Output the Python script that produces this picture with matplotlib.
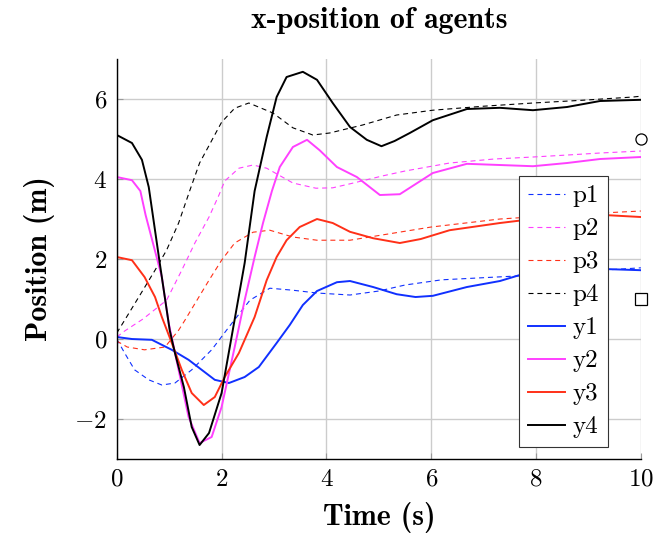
import numpy as np
import matplotlib
matplotlib.use('Agg')
from matplotlib import pyplot as plt

plt.rcParams['font.family'] = 'cmr10'
plt.rcParams['mathtext.fontset'] = 'cm'
plt.rcParams['axes.formatter.use_mathtext'] = True
plt.rcParams['axes.unicode_minus'] = True

# reference trajectories (dashed)
t_p1 = [0, 0.15, 0.34, 0.61, 0.86, 1.11, 1.43, 1.81, 2.14, 2.54, 2.92, 3.36, 3.82, 4.45, 5.0, 5.5, 6.2, 6.8, 8.0, 9.0, 10]
p1 = [0.0, -0.35, -0.77, -1.02, -1.15, -1.1, -0.77, -0.27, 0.3, 0.97, 1.27, 1.22, 1.15, 1.1, 1.2, 1.35, 1.48, 1.52, 1.6, 1.7, 1.78]

t_p2 = [0, 0.15, 0.5, 0.95, 1.24, 1.49, 1.76, 1.95, 2.06, 2.33, 2.6, 2.86, 3.36, 3.8, 4.12, 4.45, 5.08, 5.5, 6.35, 7.2, 7.94, 8.6, 9.22, 10]
p2 = [0.05, 0.2, 0.5, 0.97, 1.72, 2.4, 3.05, 3.6, 3.95, 4.27, 4.35, 4.27, 3.9, 3.77, 3.78, 3.88, 4.08, 4.2, 4.4, 4.5, 4.55, 4.6, 4.65, 4.7]

t_p3 = [0, 0.2, 0.53, 0.92, 1.18, 1.3, 1.76, 2.0, 2.25, 2.6, 2.92, 3.36, 3.82, 4.45, 5.34, 6.0, 7.31, 8.5, 10]
p3 = [-0.05, -0.2, -0.27, -0.2, 0.22, 0.47, 1.47, 1.97, 2.4, 2.67, 2.72, 2.55, 2.47, 2.47, 2.66, 2.8, 3.0, 3.1, 3.2]

t_p4 = [0, 0.15, 0.42, 0.73, 0.95, 1.18, 1.39, 1.58, 2.0, 2.25, 2.52, 2.98, 3.36, 3.74, 4.06, 4.69, 5.34, 6.03, 7.0, 7.94, 8.9, 9.85, 10]
p4 = [0.15, 0.47, 1.05, 1.72, 2.22, 2.9, 3.7, 4.4, 5.42, 5.77, 5.9, 5.65, 5.28, 5.1, 5.15, 5.35, 5.6, 5.72, 5.82, 5.9, 5.97, 6.05, 6.07]

# measured positions (solid)
t_y1 = [0, 0.29, 0.67, 1.05, 1.37, 1.62, 1.87, 2.14, 2.44, 2.71, 3.05, 3.3, 3.55, 3.82, 4.2, 4.45, 4.89, 5.34, 5.7, 6.03, 6.68, 7.31, 7.69, 8.5, 9.3, 10]
y1 = [0.05, 0.0, -0.02, -0.27, -0.52, -0.77, -1.02, -1.1, -0.95, -0.7, -0.1, 0.35, 0.85, 1.2, 1.42, 1.45, 1.3, 1.12, 1.05, 1.08, 1.3, 1.45, 1.6, 1.7, 1.75, 1.72]

t_y2 = [0, 0.29, 0.45, 0.55, 0.67, 0.86, 0.99, 1.2, 1.37, 1.58, 1.81, 2.0, 2.25, 2.44, 2.63, 2.79, 2.96, 3.11, 3.36, 3.63, 3.87, 4.2, 4.58, 5.02, 5.4, 6.03, 6.68, 7.31, 7.94, 8.59, 9.22, 10]
y2 = [4.05, 3.97, 3.7, 3.1, 2.5, 1.55, 0.4, -0.9, -1.95, -2.6, -2.45, -1.7, -0.2, 0.97, 2.05, 2.9, 3.7, 4.3, 4.8, 4.98, 4.72, 4.3, 4.05, 3.6, 3.62, 4.15, 4.38, 4.35, 4.32, 4.4, 4.5, 4.55]

t_y3 = [0, 0.29, 0.53, 0.73, 0.86, 1.05, 1.24, 1.43, 1.66, 1.87, 2.06, 2.33, 2.63, 2.86, 3.05, 3.24, 3.49, 3.82, 4.12, 4.45, 4.89, 5.4, 5.8, 6.35, 7.31, 7.94, 8.6, 9.3, 10]
y3 = [2.05, 1.97, 1.55, 1.05, 0.55, -0.1, -0.77, -1.35, -1.65, -1.45, -0.95, -0.35, 0.55, 1.47, 2.05, 2.47, 2.8, 3.0, 2.9, 2.68, 2.52, 2.4, 2.5, 2.72, 2.9, 3.0, 3.05, 3.1, 3.05]

t_y4 = [0, 0.29, 0.48, 0.61, 0.82, 1.01, 1.11, 1.28, 1.43, 1.58, 1.76, 2.0, 2.19, 2.44, 2.63, 2.86, 3.05, 3.24, 3.55, 3.82, 4.12, 4.45, 4.77, 5.05, 5.3, 5.59, 6.03, 6.68, 7.31, 7.94, 8.59, 9.22, 10]
y4 = [5.1, 4.9, 4.48, 3.8, 1.9, 0.22, -0.35, -1.2, -2.2, -2.65, -2.35, -1.35, 0.05, 1.9, 3.7, 5.05, 6.05, 6.55, 6.68, 6.48, 5.9, 5.3, 4.98, 4.82, 4.95, 5.15, 5.47, 5.75, 5.78, 5.72, 5.8, 5.95, 5.98]

# final targets
target_x = [10, 10]
target_y = [5, 1]
target_marker = ['o', 's']

blue = '#1030ff'
magenta = '#ff40ff'
red = '#ff3018'
black = 'black'

fig = plt.figure(figsize=(6.56, 5.34), dpi=100)
ax = fig.add_axes([0.178, 0.1404, 0.799, 0.7491])

dash = (0, (4.5, 3.5))
ax.plot(t_p1, p1, color=blue, lw=0.8, linestyle=dash, label='p1')
ax.plot(t_p2, p2, color=magenta, lw=0.8, linestyle=dash, label='p2')
ax.plot(t_p3, p3, color=red, lw=0.8, linestyle=dash, label='p3')
ax.plot(t_p4, p4, color=black, lw=0.8, linestyle=dash, label='p4')
ax.plot(t_y1, y1, color=blue, lw=1.4, label='y1')
ax.plot(t_y2, y2, color=magenta, lw=1.4, label='y2')
ax.plot(t_y3, y3, color=red, lw=1.4, label='y3')
ax.plot(t_y4, y4, color=black, lw=1.4, label='y4')

for x, y, m in zip(target_x, target_y, target_marker):
    ax.plot(x, y, marker=m, markersize=8, markerfacecolor='white',
            markeredgecolor='black', markeredgewidth=0.9, clip_on=False, zorder=5)

ax.set_xlim(0, 10)
ax.set_ylim(-3, 7)
ax.set_xticks([0, 2, 4, 6, 8, 10])
ax.set_yticks([-2, 0, 2, 4, 6])
ax.grid(True, color='#cccccc', lw=1)
ax.set_axisbelow(True)
ax.tick_params(direction='in', length=4, color='#999999', labelsize=18, pad=7)
for s in ['top', 'right']:
    ax.spines[s].set_visible(False)
for s in ['left', 'bottom']:
    ax.spines[s].set_linewidth(1.0)

ax.set_title('x-position of agents', fontfamily='cmb10', fontsize=21.5, pad=22)
ax.set_xlabel('Time (s)', fontfamily='cmb10', fontsize=21.5, labelpad=8)
ax.set_ylabel('Position (m)', fontfamily='cmb10', fontsize=21.5, labelpad=14)

leg = ax.legend(loc='lower right', bbox_to_anchor=(0.937, 0.03), borderaxespad=0,
                fontsize=18, frameon=True, fancybox=False, edgecolor='#333333',
                framealpha=1, handlelength=1.5, labelspacing=0.42, borderpad=0.35,
                handletextpad=0.3)
leg.get_frame().set_linewidth(0.8)

plt.savefig('out.png', dpi=100)
